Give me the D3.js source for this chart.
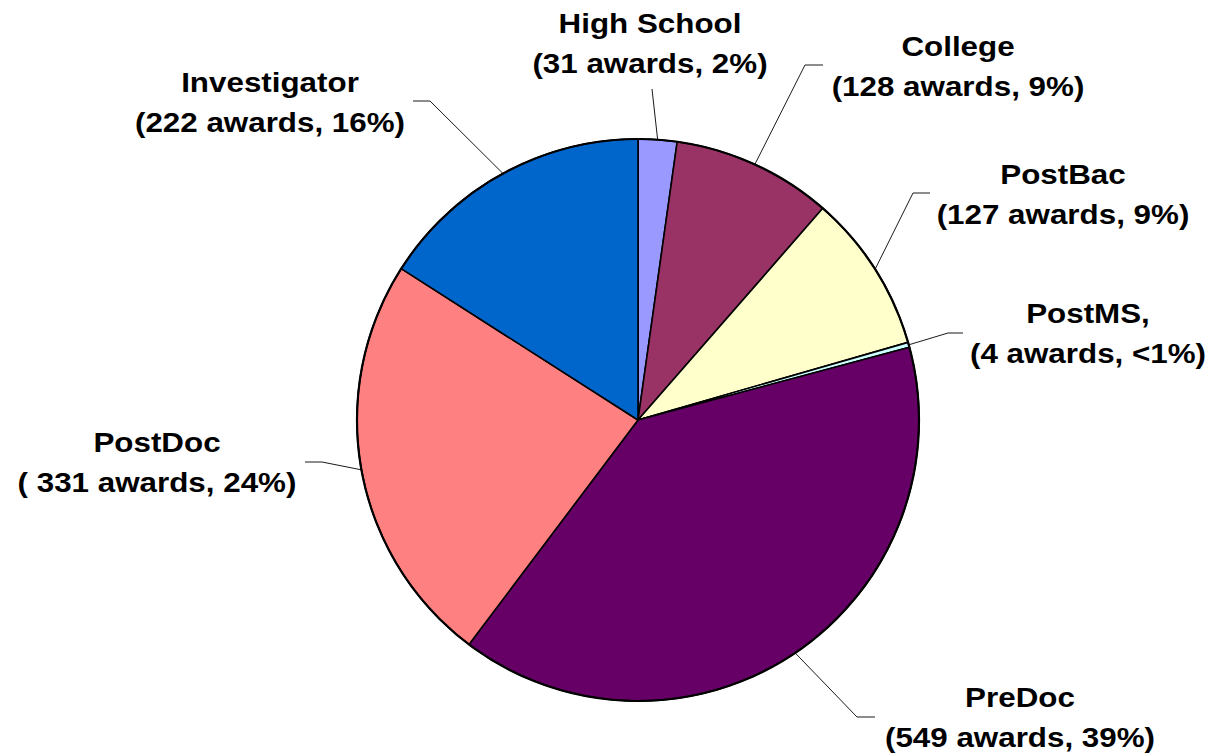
<!DOCTYPE html>
<html>
<head>
<meta charset="utf-8">
<script src="https://cdn.jsdelivr.net/npm/d3@7"></script>
<style>
  body { margin: 0; background: #fff; }
  .lbl { font-family: "Liberation Sans", Arial, sans-serif; font-weight: bold; font-size: 28px; fill: #000; }
</style>
</head>
<body>
<div id="vis"></div>
<script>
var w = 1214;
var h = 754;

// data
var categories = ["High School", "College", "PostBac", "PostMS", "PreDoc", "PostDoc", "Investigator"];
var awards = [31, 128, 127, 4, 549, 331, 222];
var line1 = ["High School", "College", "PostBac", "PostMS,", "PreDoc", "PostDoc", "Investigator"];
var line2 = ["(31 awards, 2%)", "(128 awards, 9%)", "(127 awards, 9%)", "(4 awards, <1%)", "(549 awards, 39%)", "( 331 awards, 24%)", "(222 awards, 16%)"];
var colors = ["#9999FF", "#993366", "#FFFFCC", "#CCFFFF", "#660066", "#FF8080", "#0066CC"];

// label layout: centre x, first baseline, leader elbow and end of stub (null = no stub)
var labelPos = [
  {x: 650, y: 33, ex: 652, ey: 89, sx: null, sy: null},
  {x: 958, y: 56, ex: 805, ey: 65, sx: 823, sy: 65},
  {x: 1063, y: 184, ex: 913, ey: 193, sx: 930, sy: 193},
  {x: 1088, y: 323, ex: 948, ey: 333, sx: 963, sy: 333},
  {x: 1020, y: 707, ex: 857, ey: 717, sx: 875, sy: 717},
  {x: 157, y: 452, ex: 322, ey: 462, sx: 305, sy: 462},
  {x: 270, y: 92, ex: 430, ey: 101, sx: 413, sy: 101}
];

var cx = 638, cy = 420, r = 281;
var stretch = 1.12;

var svg = d3.select("#vis")
    .append("svg")
    .attr("width", w)
    .attr("height", h);

var rows = categories.map(function(c, i) { return {name: c, value: awards[i], i: i}; });

var pie = d3.pie()
    .sort(null)
    .value(function(d) { return d.value; });

var arcs = pie(rows);

var arc = d3.arc().innerRadius(0).outerRadius(r);

var g = svg.append("g").attr("transform", "translate(" + cx + "," + cy + ")");

g.selectAll("path")
    .data(arcs)
    .enter()
    .append("path")
    .attr("d", arc)
    .attr("fill", function(d) { return colors[d.data.i]; })
    .attr("stroke", "#000")
    .attr("stroke-width", 1.6)
    .attr("stroke-linejoin", "round");

// outer rim a bit heavier
g.append("circle")
    .attr("r", r)
    .attr("fill", "none")
    .attr("stroke", "#000")
    .attr("stroke-width", 2.2);

// leader lines
arcs.forEach(function(d) {
  var p = labelPos[d.data.i];
  var a = (d.startAngle + d.endAngle) / 2;
  var px = cx + r * Math.sin(a);
  var py = cy - r * Math.cos(a);
  var pts = [[px, py], [p.ex, p.ey]];
  if (p.sx !== null) pts.push([p.sx, p.sy]);
  svg.append("path")
      .attr("d", d3.line()(pts))
      .attr("fill", "none")
      .attr("stroke", "#000")
      .attr("stroke-width", 0.9);
});

// labels
labelPos.forEach(function(p, i) {
  var t = svg.append("text")
      .attr("class", "lbl")
      .attr("text-anchor", "middle")
      .attr("transform", "translate(" + p.x + ",0) scale(" + stretch + ",1)");
  t.append("tspan").attr("x", 0).attr("y", p.y).text(line1[i]);
  t.append("tspan").attr("x", 0).attr("y", p.y + 40).text(line2[i]);
});
</script>
</body>
</html>
